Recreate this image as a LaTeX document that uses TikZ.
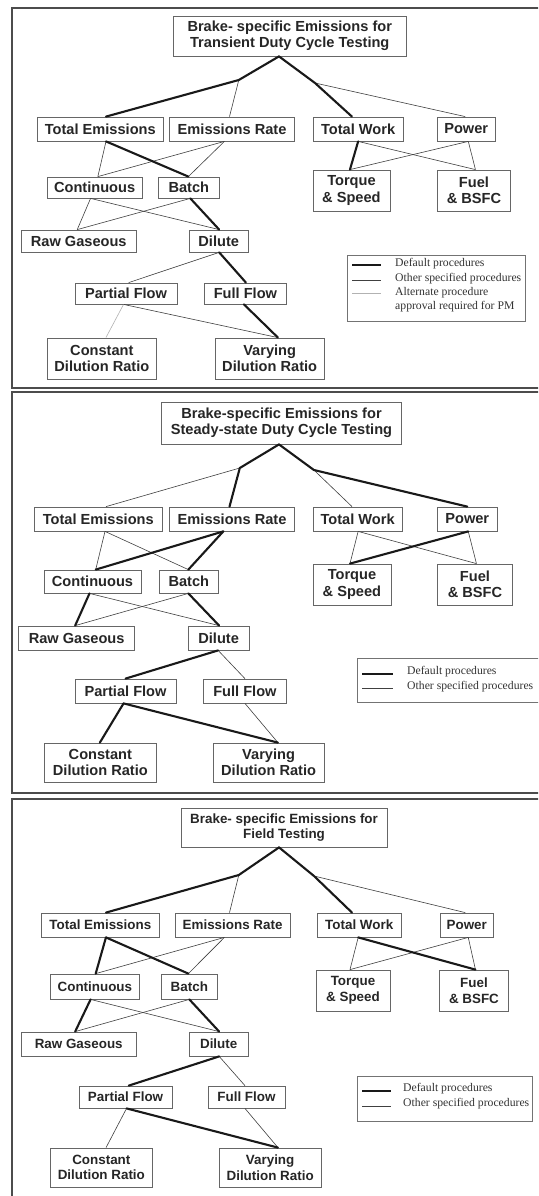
\documentclass[tikz,border=0pt]{standalone}
\usepackage{fontspec}
\setmainfont{Liberation Sans}
\newfontfamily\legfont{Liberation Serif}
\newcommand\bxn[6]{\node[bx, minimum width={(#4)-(#2)}, minimum height={(#5)-(#3)}] (#1) at ({((#2)+(#4))/2},{((#3)+(#5))/2}) {#6};}
\newcommand\E[5]{\draw[#1] ([xshift=#3pt]#2.south) -- ([xshift=#5pt]#4.north);}
\tikzset{
  bx/.style={draw=black!60, line width=0.8pt, inner sep=1pt, align=center,
    font=\bfseries\fontsize{14.6}{16.2}\selectfont, text=black!85},
  thk/.style={line width=2.1pt, black!90, line cap=round, line join=round},
  thn/.style={line width=0.6pt, black!75},
  alt/.style={line width=0.6pt, black!30},
  frm/.style={line width=1.6pt, black!70},
  legbox/.style={draw=black!55, line width=0.8pt},
  legtxt/.style={font=\legfont\fontsize{11.7}{14}\selectfont, anchor=west, inner sep=0pt, text=black!80, align=left}
}
\begin{document}
\begin{tikzpicture}[x=1pt,y=-1pt]
\useasboundingbox (0,0) rectangle (538,1196);
\clip (0,0) rectangle (538,1196);
\fill[white] (0,0) rectangle (538,1196);

% ================= Panel 1 =================
\draw[frm] (560,8) -- (12,8) -- (12,388) -- (560,388);
\bxn{at}{173}{16}{406.5}{56}{Brake- specific Emissions for\\Transient Duty Cycle Testing}
\bxn{ate}{37}{117}{163.6}{141}{Total Emissions}
\bxn{aer}{169.8}{117}{294.4}{141}{Emissions Rate}
\bxn{atw}{312.9}{117}{403.4}{141}{Total Work}
\bxn{apw}{437.4}{117}{495}{141}{Power}
\bxn{aco}{47.3}{177}{142}{198}{Continuous}
\bxn{aba}{158.5}{177}{219.2}{198}{Batch}
\bxn{atq}{312.9}{170}{390}{211}{Torque\\\& Speed}
\bxn{afu}{437.4}{170}{510.5}{211}{Fuel\\\& BSFC}
\bxn{arg}{21.6}{230}{135.9}{252}{Raw Gaseous}
\bxn{adi}{189.4}{230}{248}{252}{Dilute}
\bxn{apf}{75.1}{283}{177}{304}{Partial Flow}
\bxn{aff}{204.8}{283}{286.1}{304}{Full Flow}
\bxn{acd}{47.3}{338}{156.4}{379}{Constant\\Dilution Ratio}
\bxn{avd}{215.1}{338}{324.2}{379}{Varying\\Dilution Ratio}
\coordinate (aj1) at (238.8,80);
\coordinate (aj2) at (315,83);
\draw[thn] (aj1) -- ([xshift=-2.6pt]aer.north);
\draw[thn] (aj2) -- ([xshift=-1pt]apw.north);
\draw[thk] ([xshift=-10.75pt]at.south) -- (aj1) -- ([xshift=5.7pt]ate.north);
\draw[thk] ([xshift=-10.75pt]at.south) -- (aj2) -- ([xshift=-6.2pt]atw.north);
\E{thn}{ate}{5.7}{aco}{3.2}
\E{thn}{aer}{-7.7}{aco}{3.2}
\E{thn}{aer}{-7.7}{aba}{-0.5}
\E{thk}{ate}{5.7}{aba}{-0.5}
\E{thn}{atw}{0}{afu}{1.5}
\E{thn}{apw}{2.1}{atq}{-1.5}
\E{thn}{apw}{2.1}{afu}{1.5}
\E{thk}{atw}{0}{atq}{-1.5}
\E{thn}{aco}{-4.1}{arg}{-1.5}
\E{thn}{aco}{-4.1}{adi}{0.5}
\E{thn}{aba}{1.5}{arg}{-1.5}
\E{thk}{aba}{1.5}{adi}{0.5}
\E{thn}{adi}{0.5}{apf}{2.6}
\E{thk}{adi}{0.5}{aff}{0.5}
\E{alt}{apf}{-2.5}{acd}{4.1}
\E{thn}{apf}{-2.5}{avd}{8.3}
\E{thk}{aff}{-1.5}{avd}{8.3}
% legend 1
\node[legbox, minimum width=178, minimum height=66, inner sep=0pt] (aleg) at (436,288) {};
\coordinate (al1a) at (352,265); \coordinate (al1b) at (381,265);
\coordinate (al2a) at (352,280); \coordinate (al2b) at (381,280);
\coordinate (al3a) at (352,293); \coordinate (al3b) at (381,293);
\draw[thk, line cap=butt] (al1a) -- (al1b);
\draw[thn] (al2a) -- (al2b);
\draw[alt] (al3a) -- (al3b);
\node[legtxt] (alt1) at (395,264) {Default procedures};
\node[legtxt] (alt2) at (395,279) {Other specified procedures};
\node[legtxt] (alt3) at (395,300) {Alternate procedure\\approval required for PM};

% ================= Panel 2 =================
\draw[frm] (560,392) -- (12,392) -- (12,793) -- (560,793);
\bxn{bt}{161.6}{402}{401.4}{444}{Brake-specific Emissions for\\Steady-state Duty Cycle Testing}
\bxn{bte}{34}{507}{162.6}{531}{Total Emissions}
\bxn{ber}{169.8}{507}{294.4}{531}{Emissions Rate}
\bxn{btw}{312.9}{507}{402.4}{531}{Total Work}
\bxn{bpw}{437.4}{507}{497.1}{531}{Power}
\bxn{bco}{44}{570}{141}{593}{Continuous}
\bxn{bba}{159.5}{570}{218.2}{593}{Batch}
\bxn{btq}{312.9}{564}{391}{605}{Torque\\\& Speed}
\bxn{bfu}{437.4}{564}{512.5}{605}{Fuel\\\& BSFC}
\bxn{brg}{18.5}{626}{134.8}{650}{Raw Gaseous}
\bxn{bdi}{188.3}{626}{249}{650}{Dilute}
\bxn{bpf}{75.1}{679}{176}{703}{Partial Flow}
\bxn{bff}{203.8}{679}{286.1}{703}{Full Flow}
\bxn{bcd}{44.3}{743}{156.4}{782}{Constant\\Dilution Ratio}
\bxn{bvd}{213}{743}{324.2}{782}{Varying\\Dilution Ratio}
\coordinate (bj1) at (239.8,468);
\coordinate (bj2) at (313.9,470);
\draw[thn] (bj1) -- ([xshift=7.7pt]bte.north);
\draw[thn] (bj2) -- ([xshift=-5.65pt]btw.north);
\draw[thk] ([xshift=-2.5pt]bt.south) -- (bj1) -- ([xshift=-2.6pt]ber.north);
\draw[thk] ([xshift=-2.5pt]bt.south) -- (bj2) -- ([xshift=0pt]bpw.north);
\E{thn}{bte}{6.7}{bco}{3.2}
\E{thn}{bte}{6.7}{bba}{-0.5}
\E{thk}{ber}{-8.8}{bco}{3.2}
\E{thk}{ber}{-8.8}{bba}{-0.5}
\E{thn}{btw}{0.5}{btq}{-2}
\E{thn}{btw}{0.5}{bfu}{1.5}
\E{thn}{bpw}{1}{bfu}{1.5}
\E{thk}{bpw}{1}{btq}{-2}
\E{thn}{bco}{-3}{bdi}{0.5}
\E{thn}{bba}{-0.5}{brg}{-1.5}
\E{thk}{bco}{-3}{brg}{-1.5}
\E{thk}{bba}{-0.5}{bdi}{0.5}
\E{thn}{bdi}{-0.5}{bff}{0}
\E{thk}{bdi}{-0.5}{bpf}{0}
\E{thn}{bff}{0}{bvd}{9.3}
\E{thk}{bpf}{-2}{bcd}{-0.5}
\E{thk}{bpf}{-2}{bvd}{9.3}
% legend 2
\node[legbox, minimum width=183, minimum height=44, inner sep=0pt] (bleg) at (448.5,680) {};
\coordinate (bl1a) at (362,674); \coordinate (bl1b) at (393,674);
\coordinate (bl2a) at (362,688); \coordinate (bl2b) at (393,688);
\draw[thk, line cap=butt] (bl1a) -- (bl1b);
\draw[thn] (bl2a) -- (bl2b);
\node[legtxt] (blt1) at (407,672) {Default procedures};
\node[legtxt] (blt2) at (407,687) {Other specified procedures};

% ================= Panel 3 =================
\begin{scope}[bx/.append style={font=\bfseries\fontsize{13.4}{15.6}\selectfont}]
\draw[frm] (560,799) -- (12,799) -- (12,1210);
\bxn{ct}{181.1}{808}{387}{847}{Brake- specific Emissions for\\Field Testing}
\bxn{cte}{41.2}{913}{159.5}{937}{Total Emissions}
\bxn{cer}{175}{913}{290.2}{937}{Emissions Rate}
\bxn{ctw}{317}{913}{401.4}{937}{Total Work}
\bxn{cpw}{440.5}{913}{493}{937}{Power}
\bxn{cco}{50.8}{974}{139}{999}{Continuous}
\bxn{cba}{161.5}{974}{217.2}{999}{Batch}
\bxn{ctq}{316}{970}{390}{1011}{Torque\\\& Speed}
\bxn{cfu}{439.5}{970}{508.4}{1011}{Fuel\\\& BSFC}
\bxn{crg}{21.6}{1032}{135.9}{1056}{Raw Gaseous}
\bxn{cdi}{189.4}{1032}{248}{1056}{Dilute}
\bxn{cpf}{79.2}{1086}{171.9}{1108}{Partial Flow}
\bxn{cff}{207.9}{1086}{285}{1108}{Full Flow}
\bxn{ccd}{50.4}{1148}{152.3}{1187}{Constant\\Dilution Ratio}
\bxn{cvd}{219.2}{1148}{321.1}{1187}{Varying\\Dilution Ratio}
\coordinate (cj1) at (238.8,875);
\coordinate (cj2) at (314,876);
\draw[thn] (cj1) -- ([xshift=-3.1pt]cer.north);
\draw[thn] (cj2) -- ([xshift=-1.5pt]cpw.north);
\draw[thk] ([xshift=-5pt]ct.south) -- (cj1) -- ([xshift=5.6pt]cte.north);
\draw[thk] ([xshift=-5pt]ct.south) -- (cj2) -- ([xshift=-7.2pt]ctw.north);
\E{thn}{cer}{-8.2}{cco}{0.8}
\E{thn}{cer}{-8.2}{cba}{-1}
\E{thk}{cte}{5.6}{cco}{0.8}
\E{thk}{cte}{5.6}{cba}{-1}
\E{thn}{ctw}{-1}{ctq}{-3}
\E{thn}{cpw}{1.5}{ctq}{-3}
\E{thn}{cpw}{1.5}{cfu}{1.5}
\E{thk}{ctw}{-1}{cfu}{1.5}
\E{thn}{cco}{-4.3}{cdi}{0.5}
\E{thn}{cba}{0}{crg}{-3.6}
\E{thk}{cco}{-4.3}{crg}{-3.6}
\E{thk}{cba}{0}{cdi}{0.5}
\E{thn}{cdi}{0.5}{cff}{-1.5}
\E{thk}{cdi}{0.5}{cpf}{3.2}
\E{thn}{cpf}{1}{ccd}{4.7}
\E{thn}{cff}{-1.5}{cvd}{7.8}
\E{thk}{cpf}{1}{cvd}{7.8}
% legend 3
\node[legbox, minimum width=175, minimum height=45, inner sep=0pt] (cleg) at (444.5,1098.5) {};
\coordinate (cl1a) at (362,1091); \coordinate (cl1b) at (391,1091);
\coordinate (cl2a) at (362,1106); \coordinate (cl2b) at (391,1106);
\draw[thk, line cap=butt] (cl1a) -- (cl1b);
\draw[thn] (cl2a) -- (cl2b);
\node[legtxt] (clt1) at (403,1089) {Default procedures};
\node[legtxt] (clt2) at (403,1104) {Other specified procedures};
\end{scope}
\end{tikzpicture}
\end{document}
